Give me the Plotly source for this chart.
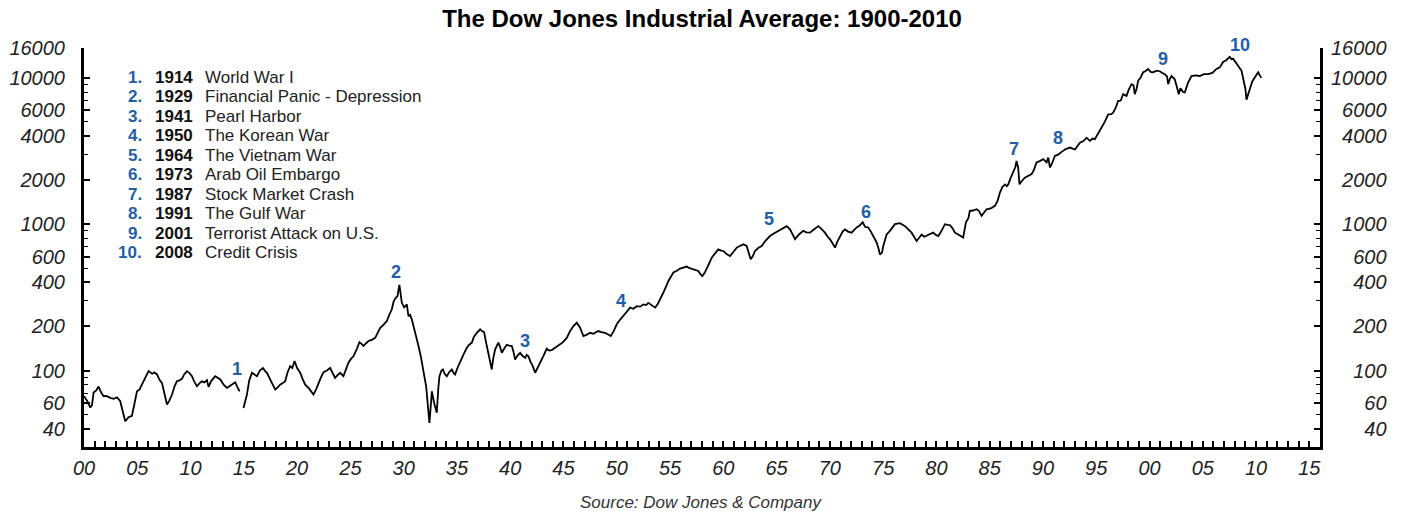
import math
import plotly.graph_objects as go

# ---------------- data ----------------
years = [
    1900.00, 1900.30, 1900.59, 1900.75, 1900.90, 1901.15, 1901.37, 1901.60, 1901.84, 1902.10,
    1902.47, 1902.80, 1903.10, 1903.40, 1903.65, 1903.87, 1904.18, 1904.50, 1904.75, 1904.97,
    1905.20, 1905.44, 1905.75, 1906.06, 1906.40, 1906.60, 1906.85, 1907.10, 1907.32, 1907.55,
    1907.79, 1908.00, 1908.26, 1908.50, 1908.72, 1909.00, 1909.19, 1909.40, 1909.66, 1909.90,
    1910.13, 1910.35, 1910.60, 1910.85, 1911.07, 1911.30, 1911.54, 1911.69, 1911.95, 1912.32,
    1912.55, 1912.79, 1913.10, 1913.41, 1913.65, 1913.88, 1914.19, 1914.40, 1914.60, 1914.80,
    1914.97, 1915.10, 1915.29, 1915.50, 1915.76, 1916.00, 1916.23, 1916.50, 1916.79, 1917.00,
    1917.17, 1917.40, 1917.64, 1917.95, 1918.20, 1918.41, 1918.65, 1918.88, 1919.10, 1919.35,
    1919.55, 1919.76, 1920.00, 1920.29, 1920.50, 1920.76, 1921.07, 1921.30, 1921.54, 1921.80,
    1922.00, 1922.25, 1922.48, 1922.80, 1923.10, 1923.35, 1923.57, 1923.80, 1924.04, 1924.35,
    1924.60, 1924.82, 1925.05, 1925.29, 1925.60, 1925.85, 1926.05, 1926.23, 1926.45, 1926.70,
    1927.00, 1927.33, 1927.55, 1927.80, 1928.10, 1928.42, 1928.65, 1928.89, 1929.05, 1929.20,
    1929.42, 1929.60, 1929.70, 1929.83, 1930.05, 1930.30, 1930.45, 1930.60, 1930.77, 1930.95,
    1931.08, 1931.25, 1931.39, 1931.61, 1931.75, 1931.86, 1932.00, 1932.11, 1932.25, 1932.42,
    1932.55, 1932.65, 1932.86, 1933.00, 1933.11, 1933.25, 1933.36, 1933.55, 1933.68, 1933.85,
    1934.05, 1934.30, 1934.52, 1934.70, 1934.83, 1935.05, 1935.30, 1935.60, 1935.93, 1936.15,
    1936.40, 1936.60, 1936.87, 1937.05, 1937.18, 1937.35, 1937.55, 1937.70, 1937.80, 1937.95,
    1938.05, 1938.27, 1938.40, 1938.58, 1938.75, 1938.89, 1939.05, 1939.21, 1939.45, 1939.68,
    1939.90, 1940.15, 1940.30, 1940.46, 1940.70, 1940.93, 1941.15, 1941.40, 1941.55, 1941.71,
    1941.90, 1942.10, 1942.34, 1942.55, 1942.81, 1943.10, 1943.43, 1943.65, 1943.90, 1944.20,
    1944.52, 1944.90, 1945.31, 1945.60, 1945.93, 1946.25, 1946.56, 1946.87, 1947.20, 1947.50,
    1947.80, 1948.27, 1948.55, 1948.90, 1949.20, 1949.44, 1949.70, 1950.00, 1950.30, 1950.62,
    1950.90, 1951.25, 1951.55, 1951.88, 1952.20, 1952.50, 1952.75, 1952.96, 1953.30, 1953.60,
    1953.85, 1954.07, 1954.45, 1954.85, 1955.10, 1955.31, 1955.60, 1955.94, 1956.25, 1956.57,
    1956.85, 1957.18, 1957.40, 1957.65, 1957.85, 1958.03, 1958.25, 1958.44, 1958.70, 1958.91,
    1959.20, 1959.53, 1959.80, 1960.00, 1960.30, 1960.63, 1960.90, 1961.26, 1961.55, 1961.88,
    1962.19, 1962.40, 1962.57, 1962.75, 1962.97, 1963.30, 1963.60, 1963.95, 1964.38, 1964.70,
    1965.00, 1965.40, 1965.70, 1965.95, 1966.26, 1966.50, 1966.73, 1967.10, 1967.50, 1967.80,
    1968.13, 1968.50, 1968.91, 1969.20, 1969.54, 1969.80, 1970.00, 1970.25, 1970.48, 1970.70,
    1970.95, 1971.20, 1971.42, 1971.70, 1972.04, 1972.30, 1972.51, 1972.80, 1973.08, 1973.30,
    1973.60, 1973.85, 1974.07, 1974.39, 1974.55, 1974.70, 1974.90, 1975.01, 1975.33, 1975.64,
    1976.11, 1976.58, 1977.05, 1977.35, 1977.67, 1977.90, 1978.14, 1978.40, 1978.61, 1978.85,
    1979.08, 1979.40, 1979.70, 1979.95, 1980.17, 1980.40, 1980.80, 1981.05, 1981.27, 1981.50,
    1981.74, 1982.05, 1982.36, 1982.51, 1982.77, 1983.00, 1983.14, 1983.45, 1983.77, 1984.00,
    1984.24, 1984.45, 1984.71, 1985.10, 1985.49, 1985.75, 1985.96, 1986.20, 1986.43, 1986.60,
    1986.74, 1987.00, 1987.21, 1987.40, 1987.52, 1987.67, 1987.80, 1987.95, 1988.30, 1988.60,
    1988.93, 1989.15, 1989.40, 1989.70, 1990.02, 1990.34, 1990.50, 1990.65, 1990.85, 1991.12,
    1991.45, 1991.75, 1992.10, 1992.53, 1993.00, 1993.47, 1993.80, 1994.09, 1994.40, 1994.65,
    1994.87, 1995.20, 1995.50, 1995.80, 1996.12, 1996.40, 1996.59, 1996.85, 1997.05, 1997.30,
    1997.52, 1997.84, 1998.05, 1998.31, 1998.50, 1998.62, 1998.80, 1998.93, 1999.15, 1999.40,
    1999.60, 1999.87, 2000.10, 2000.34, 2000.65, 2000.97, 2001.20, 2001.44, 2001.65, 2001.75,
    2001.90, 2002.06, 2002.37, 2002.55, 2002.75, 2002.90, 2003.00, 2003.15, 2003.31, 2003.60,
    2003.94, 2004.30, 2004.72, 2005.10, 2005.50, 2005.90, 2006.28, 2006.60, 2006.90, 2007.20,
    2007.53, 2007.70, 2007.84, 2008.10, 2008.31, 2008.63, 2008.85, 2009.00, 2009.10, 2009.25,
    2009.41, 2009.65, 2009.88, 2010.20, 2010.35, 2010.50,
]

dow = [
    66.7, 62, 55.8, 58, 70.7, 73, 77.7, 71, 66.7, 67,
    65, 64, 65.6, 61.6, 52, 45, 48, 49, 60, 72,
    74, 80, 88, 99, 95, 97, 94, 86, 82, 70,
    58.5, 62, 68.5, 78, 84.5, 86, 87.7, 94, 99, 96,
    91.5, 84, 78, 82, 84.5, 83, 86, 77.3, 85, 91.5,
    89, 86.8, 80, 76, 78, 80, 83, 77, 72, None,
    55.5, 60, 68.5, 85, 96.5, 94, 91.5, 100, 104, 99,
    96.5, 89, 82, 74, 77, 80, 82, 84.5, 97, 107,
    104, 116, 104, 96.5, 88, 80, 76, 72, 68.5, 75,
    82, 90, 97.5, 100, 104, 95, 89, 93, 96.5, 91.5,
    102, 113, 120, 125, 140, 156, 152, 147, 153, 159,
    162, 167, 180, 196, 205, 218, 240, 262, 295, 310,
    323, 385, 340, 290, 270, 283, 235, 240, 223, 200,
    181, 165, 147, 125, 110, 96.5, 85, 78, 60, 43.8,
    58, 72, 60, 55, 51.4, 75, 91.5, 100, 101.6, 95,
    91.5, 98, 101.6, 96, 94, 104, 113, 128, 143, 150,
    155, 170, 181, 186, 191, 186, 183, 160, 147, 130,
    125, 101.6, 120, 139, 148, 155, 145, 132, 142, 150,
    148, 147, 135, 119, 127, 132, 126, 122, 128, 125,
    115, 108, 96.5, 103, 113, 125, 141, 137, 138, 143,
    148, 155, 167, 185, 201, 212, 196, 172, 176, 181,
    178, 186, 183, 181, 176, 172, 185, 207, 222, 235,
    250, 269, 264, 275, 273, 283, 280, 290, 278, 269,
    285, 306, 350, 409, 440, 467, 478, 497, 505, 513,
    500, 493, 485, 479, 455, 442, 465, 493, 545, 590,
    625, 673, 660, 656, 625, 606, 640, 692, 710, 728,
    710, 640, 575, 600, 656, 690, 710, 770, 830, 860,
    885, 920, 950, 970, 922, 860, 790, 850, 900, 880,
    875, 920, 970, 930, 875, 820, 790, 740, 692, 760,
    830, 890, 922, 890, 875, 920, 950, 980, 1030, 960,
    950, 890, 830, 750, 690, 620, 640, 710, 850, 900,
    1000, 1016, 970, 920, 875, 820, 767, 810, 850, 820,
    835, 850, 875, 845, 830, 880, 1000, 990, 985, 940,
    875, 850, 830, 810, 1030, 1100, 1232, 1240, 1265, 1230,
    1140, 1200, 1265, 1280, 1334, 1450, 1645, 1800, 1870, 1820,
    1870, 2100, 2311, 2450, 2705, 2441, 1870, 1950, 2080, 2150,
    2200, 2350, 2640, 2700, 2780, 2640, 2850, 2441, 2600, 2930,
    3000, 3120, 3250, 3340, 3240, 3610, 3700, 3900, 3710, 3850,
    3815, 4200, 4570, 5000, 5635, 5650, 5780, 6300, 6950, 7000,
    7730, 7530, 8300, 9060, 8900, 7730, 8500, 9550, 10000, 10920,
    11100, 11500, 11000, 10920, 11200, 11100, 10800, 10600, 10200, 9060,
    9800, 10300, 9780, 8800, 7730, 8500, 8350, 8000, 7950, 9200,
    10300, 10400, 10300, 10600, 10600, 10800, 11500, 11800, 12850, 13200,
    13900, 13400, 13530, 12600, 12080, 11200, 9060, 8400, 7100, 7600,
    8350, 9500, 10000, 10920, 10400, 10000,
]

y_tick_values = [40, 60, 100, 200, 400, 600, 1000, 2000, 4000, 6000, 10000, 16000]
y_minor_values = [50, 70, 80, 90, 300, 500, 700, 800, 900,
                  3000, 5000, 7000, 8000, 9000]
x_tick_years = list(range(1900, 2016, 5))
x_tick_labels = ["00", "05", "10", "15", "20", "25", "30", "35", "40", "45", "50", "55",
                 "60", "65", "70", "75", "80", "85", "90", "95", "00", "05", "10", "15"]

event_numbers = ["1", "2", "3", "4", "5", "6", "7", "8", "9", "10"]
event_years = ["1914", "1929", "1941", "1950", "1964", "1973", "1987", "1991", "2001", "2008"]
event_names = ["World War I", "Financial Panic - Depression", "Pearl Harbor", "The Korean War",
               "The Vietnam War", "Arab Oil Embargo", "Stock Market Crash", "The Gulf War",
               "Terrorist Attack on U.S.", "Credit Crisis"]
# where each number label sits on the chart (year, index level)
event_label_x = [1914.38, 1929.3, 1941.4, 1950.4, 1964.3, 1973.4, 1987.3, 1991.4, 2001.3, 2008.5]
event_label_y = [101.6, 469, 160, 297, 1081, 1208, 3266, 3881, 13490, 16830]

# ---------------- layout (page pixels) ----------------
W, H = 1409, 514
PLOT_LEFT, PLOT_RIGHT, PLOT_TOP, PLOT_BOTTOM = 84, 1320, 48, 447
L, T, R, B = PLOT_LEFT, PLOT_TOP, W - PLOT_RIGHT, H - PLOT_BOTTOM
plot_w = PLOT_RIGHT - PLOT_LEFT
plot_h = PLOT_BOTTOM - PLOT_TOP
BLUE = "#1f5ea8"
FONT = "Liberation Sans, Arial, sans-serif"
YR = [math.log10(30), math.log10(16000)]

def px_x(px):
    return (px - PLOT_LEFT) / plot_w

def px_y(py):
    return (PLOT_BOTTOM - py) / plot_h

def val_y(v):
    return (math.log10(v) - YR[0]) / (YR[1] - YR[0])

NBSP = "\u00a0"
def pad(lbl):
    # right-align right-axis labels by padding with no-break spaces (2 spaces ~ 1 digit)
    return NBSP * (2 * (5 - len(lbl))) + lbl

fig = go.Figure()
fig.add_trace(go.Scatter(
    x=years, y=dow, mode="lines",
    line=dict(color="black", width=1.8),
    connectgaps=False, showlegend=False, hoverinfo="x+y",
))
fig.add_trace(go.Scatter(
    x=[years[0]], y=[dow[0]], yaxis="y2", mode="markers",
    marker=dict(opacity=0), showlegend=False, hoverinfo="skip",
))

tickfont = dict(family=FONT, size=20, color="#222", style="italic")

yaxis_common = dict(
    type="log", range=YR, tickmode="array", tickvals=y_tick_values,
    ticks="inside", ticklen=6, tickwidth=1.5, tickcolor="black",
    showline=True, linewidth=3, linecolor="black",
    showgrid=False, zeroline=False, tickfont=tickfont,
    minor=dict(tickmode="array", tickvals=y_minor_values, ticks="inside",
               ticklen=4, tickwidth=1.2, tickcolor="black", showgrid=False),
)

fig.update_layout(
    width=W, height=H,
    margin=dict(l=L, r=R, t=T, b=B, autoexpand=False),
    paper_bgcolor="white", plot_bgcolor="white",
    showlegend=False,
    title=dict(text="<b>The Dow Jones Industrial Average: 1900-2010</b>",
               x=702 / W, xanchor="center", xref="container",
               y=1 - 19 / H, yanchor="middle", yref="container",
               font=dict(family=FONT, size=24, color="black")),
    xaxis=dict(
        range=[1900, 2016], tickmode="array", tickvals=x_tick_years, ticktext=x_tick_labels,
        ticks="inside", ticklen=6, tickwidth=1.5, tickcolor="black",
        showline=True, linewidth=3, linecolor="black", showgrid=False, zeroline=False,
        tickfont=tickfont, ticklabelstandoff=1,
        minor=dict(dtick=1, tick0=1900, ticks="inside", ticklen=6, tickwidth=1.5,
                   tickcolor="black", showgrid=False),
    ),
    yaxis=dict(side="left", ticktext=[str(v) for v in y_tick_values],
               ticklabelstandoff=12, **yaxis_common),
    yaxis2=dict(side="right", overlaying="y", anchor="x",
                ticktext=[pad(str(v)) for v in y_tick_values],
                ticklabelstandoff=4, **yaxis_common),
)

annotations = []
# legend block (number / year / description)
for i, (num, yr_s, name) in enumerate(zip(event_numbers, event_years, event_names)):
    ypos = px_y(77 + i * 19.5)
    annotations.append(dict(text=f"<b>{num}.</b>", x=px_x(144), y=ypos, xref="paper", yref="paper",
                            xanchor="right", yanchor="middle", showarrow=False,
                            font=dict(family=FONT, size=17, color=BLUE)))
    annotations.append(dict(text=f"<b>{yr_s}</b>", x=px_x(153), y=ypos, xref="paper", yref="paper",
                            xanchor="left", yanchor="middle", showarrow=False,
                            font=dict(family=FONT, size=17, color="#111")))
    annotations.append(dict(text=name, x=px_x(203), y=ypos, xref="paper", yref="paper",
                            xanchor="left", yanchor="middle", showarrow=False,
                            font=dict(family=FONT, size=17, color="#222")))

# event number labels on the line (placed through the log scale of the y axis)
for num, ex, ey in zip(event_numbers, event_label_x, event_label_y):
    annotations.append(dict(text=f"<b>{num}</b>", x=ex, y=val_y(ey), xref="x", yref="paper",
                            xanchor="center", yanchor="middle", showarrow=False,
                            font=dict(family=FONT, size=18, color=BLUE)))

annotations.append(dict(text="<i>Source: Dow Jones &amp; Company</i>", x=px_x(701), y=px_y(502),
                        xref="paper", yref="paper", xanchor="center", yanchor="middle",
                        showarrow=False, font=dict(family=FONT, size=17, color="#333")))

fig.update_layout(annotations=annotations)
# the page's default 8px body margin would push the figure off the window; remove it
fig.write_html("out.html", config={"displayModeBar": False},
               post_script="document.body.style.margin='0px';")
